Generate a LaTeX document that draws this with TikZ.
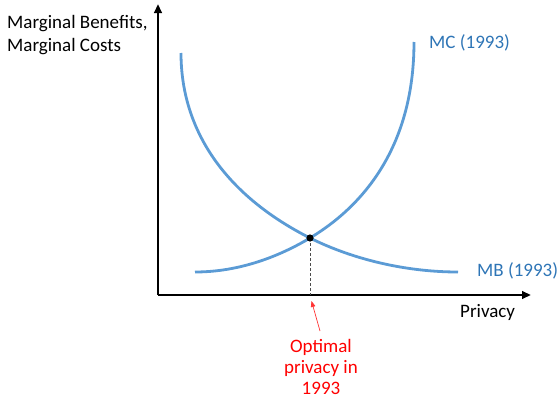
\documentclass[tikz,border=0pt]{standalone}
\usepackage{fontspec}
\setmainfont{Carlito}
\usetikzlibrary{arrows.meta}
\definecolor{curveblue}{HTML}{5B9BD5}
\definecolor{labelblue}{HTML}{2E75B6}
\definecolor{optred}{HTML}{FF0000}
\begin{document}
\begin{tikzpicture}[x=1pt,y=-1pt,
  axis/.style={line width=2.4pt,-{Triangle[length=9pt,width=7.5pt]}},
  curve/.style={line width=2.8pt,curveblue},
  lbl/.style={font=\fontsize{19}{22}\selectfont,inner sep=0pt},
  bluelbl/.style={lbl,text=labelblue},
  redlbl/.style={lbl,text=optred,anchor=base}]
\useasboundingbox (0,0) rectangle (560,399);
% axes
\coordinate (O) at (158,295);
\coordinate (ytop) at (158,4);
\coordinate (xend) at (531,295);
\draw[axis] (O) -- (ytop);
\draw[axis] (O) -- (xend);
% curves
\coordinate (E) at (310,238);
\draw[curve] (181,53) .. controls (181,130) and (225,195) .. (E)
  .. controls (352,259) and (405,272) .. (458,272);
\draw[curve] (195,272) .. controls (240,272) and (280,256) .. (E)
  .. controls (360,208) and (414,150) .. (414,42);
% equilibrium
\coordinate (Ex) at (310,295);
\draw[densely dashed,line width=0.7pt,black!70] (E) -- (Ex);
\fill (E) circle (3.6pt);
% labels
\node[lbl,anchor=base west] (ylab1) at (7,28) {Marginal Benefits,};
\node[lbl,anchor=base west] (ylab2) at (7,51.5) {Marginal Costs};
\node[lbl,anchor=base west] (xlab) at (460,317) {Privacy};
\node[bluelbl,anchor=base west] (mc) at (429,48) {MC (1993)};
\node[bluelbl,anchor=base west] (mb) at (477,276) {MB (1993)};
\node[redlbl] (opt1) at (321,352) {Optimal};
\node[redlbl] (opt2) at (321,373.5) {privacy in};
\node[redlbl] (opt3) at (321,394.5) {1993};
\coordinate (arrtail) at (320,331);
\coordinate (arrtip) at (311.5,301);
\draw[optred!80,line width=0.7pt,-{Triangle[length=6pt,width=4.5pt]}] (arrtail) -- (arrtip);
\end{tikzpicture}
\end{document}
